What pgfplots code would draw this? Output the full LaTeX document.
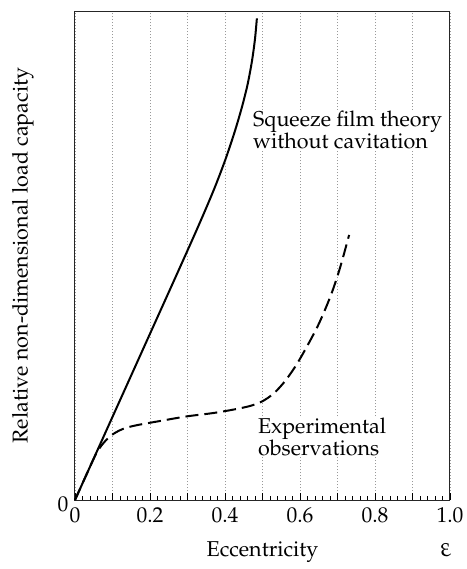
\documentclass[border=0pt]{standalone}
\usepackage[T1]{fontenc}
\usepackage{mathpazo}
\usepackage{pgfplots}
\pgfplotsset{compat=1.18}
\begin{document}
\begin{tikzpicture}[font=\fontsize{21.5}{21}\selectfont]
\begin{axis}[
  scale only axis, width=375pt, height=489pt,
  xmin=0, xmax=1, ymin=0, ymax=1,
  axis line style={line width=1pt, black!85},
  xtick={0,0.1,0.2,0.3,0.4,0.5,0.6,0.7,0.8,0.9,1},
  xticklabels={0,,0.2,,0.4,,0.6,,0.8,,1.0},
  minor x tick num=4,
  xtick pos=bottom,
  tick align=inside,
  major tick length=7pt, minor tick length=4pt,
  tick style={line width=0.9pt, black},
  ytick={0}, yticklabels={0}, ytick style={draw=none},
  yticklabel style={xshift=-3pt, yshift=-4pt},
  xmajorgrids,
  major grid style={line width=0.8pt, black!40, dash pattern=on 0.8pt off 2.2pt},
  xlabel={Eccentricity},
  ylabel={Relative non-dimensional load capacity},
  xlabel style={at={(axis description cs:0.5,-0.116)}, anchor=base},
  ylabel style={at={(axis description cs:-0.139,0.5)}, anchor=center},
  every tick label/.append style={font=\fontsize{21.5}{21}\selectfont},
  xticklabel style={yshift=-4pt},
  clip=false,
]
\addplot[black, line width=2pt, smooth] coordinates {
 (0,0) (0.1,0.17) (0.2,0.34) (0.28,0.476) (0.33,0.562) (0.37,0.634)
 (0.40,0.694) (0.425,0.751) (0.445,0.803) (0.46,0.849) (0.472,0.898)
 (0.48,0.943) (0.485,0.985)
};
\addplot[black, line width=2pt, smooth, dash pattern=on 13pt off 6pt] coordinates {
 (0,0) (0.03,0.051) (0.058,0.097) (0.08,0.12) (0.102,0.135) (0.13,0.146)
 (0.165,0.153) (0.23,0.162) (0.298,0.171) (0.37,0.178) (0.43,0.186)
 (0.47,0.193) (0.50,0.202) (0.53,0.218) (0.56,0.243) (0.59,0.276)
 (0.62,0.316) (0.65,0.36) (0.68,0.414) (0.70,0.458) (0.715,0.497) (0.731,0.542)
};
\node[anchor=west, align=left, fill=white, inner sep=1pt] at (axis description cs:0.472,0.757) {Squeeze film theory\\without cavitation};
\node[anchor=west, align=left, fill=white, inner sep=1pt] at (axis description cs:0.485,0.129) {Experimental\\observations};
\node[anchor=base, xslant=-0.22, font=\fontsize{27}{27}\selectfont] at (axis description cs:0.992,-0.116) {$\varepsilon$};
\coordinate (BL) at (axis description cs:-0.2,-0.1411);
\coordinate (TR) at (axis description cs:1.0427,1.0225);
\end{axis}
\pgfresetboundingbox
\path[use as bounding box] (BL) rectangle (TR);
\end{tikzpicture}
\end{document}
